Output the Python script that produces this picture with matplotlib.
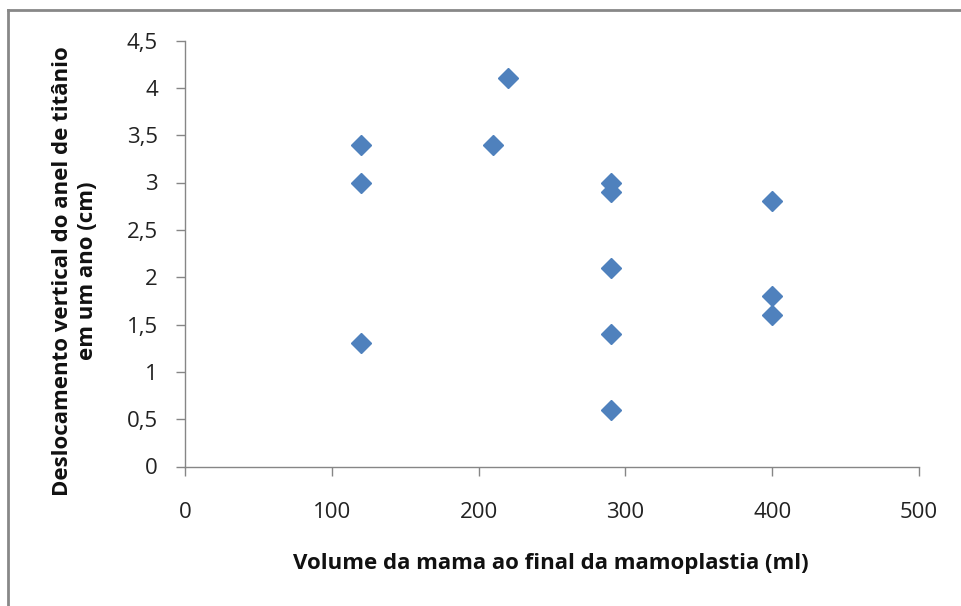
import matplotlib
matplotlib.use("Agg")
import matplotlib.pyplot as plt
from matplotlib.lines import Line2D

volume_ml = [120, 120, 120, 210, 220, 290, 290, 290, 290, 290, 400, 400, 400]
deslocamento_cm = [3.4, 3.0, 1.3, 3.4, 4.1, 3.0, 2.9, 2.1, 1.4, 0.6, 2.8, 1.8, 1.6]

x_ticks = [0, 100, 200, 300, 400, 500]
y_ticks = [0, 0.5, 1, 1.5, 2, 2.5, 3, 3.5, 4, 4.5]
y_tick_labels = ["0", "0,5", "1", "1,5", "2", "2,5", "3", "3,5", "4", "4,5"]

plt.rcParams['font.family'] = ['Open Sans', 'DejaVu Sans']

W, H = 961, 606
fig = plt.figure(figsize=(W / 100, H / 100), dpi=100)
ax = fig.add_axes([185 / W, 1 - 466.5 / H, (919 - 185) / W, (466.5 - 40.5) / H])

ax.plot(volume_ml, deslocamento_cm, linestyle='none', marker='D', markersize=10,
        color='#4F81BD', markeredgecolor='#4F81BD', clip_on=False)

ax.set_xlim(0, 500)
ax.set_ylim(0, 4.5)
ax.set_xticks(x_ticks)
ax.set_xticklabels([str(v) for v in x_ticks])
ax.set_yticks(y_ticks)
ax.set_yticklabels(y_tick_labels)

for s in ['top', 'right']:
    ax.spines[s].set_visible(False)
for s in ['left', 'bottom']:
    ax.spines[s].set_color('#868686')
    ax.spines[s].set_linewidth(1.0)

ax.tick_params(axis='both', direction='out', length=6.5, width=1.0, color='#868686',
               labelsize=16, labelcolor='#222222')
ax.tick_params(axis='x', pad=19)
ax.tick_params(axis='y', pad=13)

fig.text(551 / W, 1 - 563 / H, "Volume da mama ao final da mamoplastia (ml)", fontsize=16,
         fontweight='bold', color='#111111', ha='center', va='center')
fig.text(75 / W, 1 - 271 / H, "Deslocamento vertical do anel de titânio\nem um ano (cm)",
         fontsize=16, fontweight='bold', color='#111111', ha='center', va='center',
         rotation=90, linespacing=1.22, multialignment='center')

# outer frame
fig.add_artist(Line2D([8 / W, 8 / W], [0, 1 - 10 / H], transform=fig.transFigure,
                      color='#888888', linewidth=2))
fig.add_artist(Line2D([8 / W, 1], [1 - 10 / H, 1 - 10 / H], transform=fig.transFigure,
                      color='#888888', linewidth=2))

fig.savefig("out.png", dpi=100)
